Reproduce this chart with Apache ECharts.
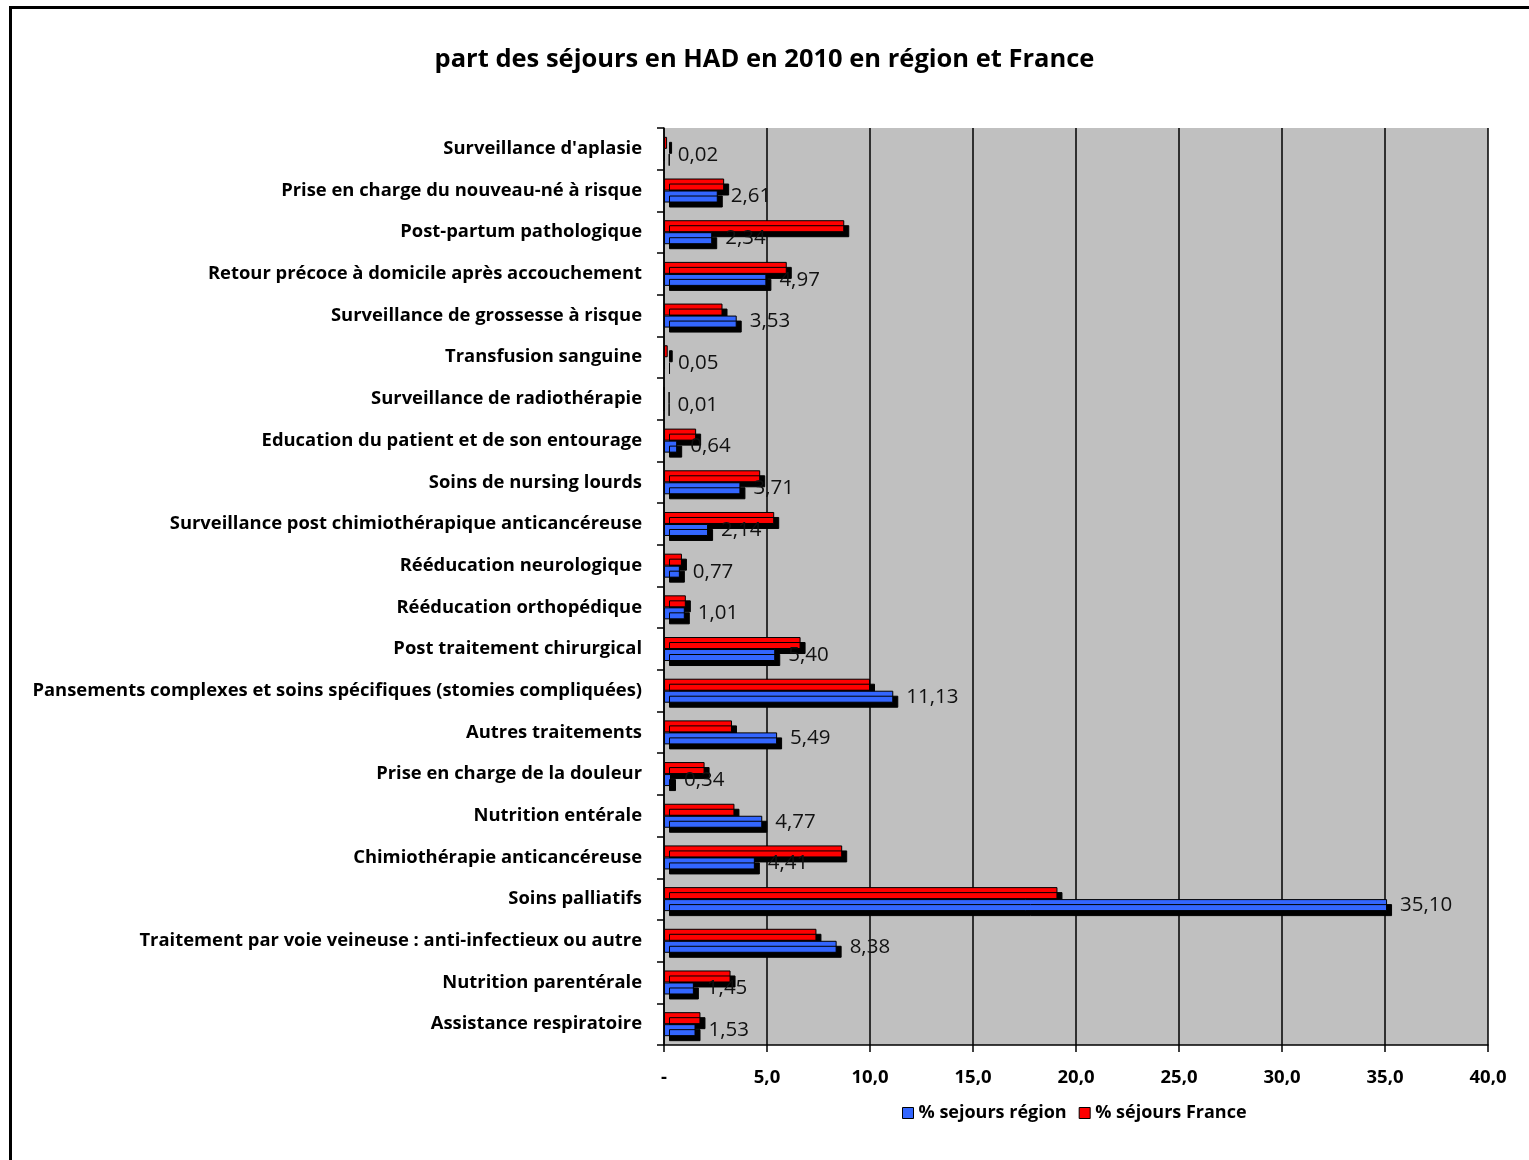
<!DOCTYPE html>
<html><head><meta charset="utf-8">
<script src="https://cdn.jsdelivr.net/npm/echarts@6/dist/echarts.min.js"></script>
<style>html,body{margin:0;padding:0;background:#fff}#c{width:1529px;height:1160px}</style>
</head><body><div id="c"></div>
<script>
const titleText = "part des séjours en HAD en 2010 en région et France";
const categories = [
  "Assistance respiratoire",
  "Nutrition parentérale",
  "Traitement par voie veineuse : anti-infectieux ou autre",
  "Soins palliatifs",
  "Chimiothérapie anticancéreuse",
  "Nutrition entérale",
  "Prise en charge de la douleur",
  "Autres traitements",
  "Pansements complexes et soins spécifiques (stomies compliquées)",
  "Post traitement chirurgical",
  "Rééducation orthopédique",
  "Rééducation neurologique",
  "Surveillance post chimiothérapique anticancéreuse",
  "Soins de nursing lourds",
  "Education du patient et de son entourage",
  "Surveillance de radiothérapie",
  "Transfusion sanguine",
  "Surveillance de grossesse à risque",
  "Retour précoce à domicile après accouchement",
  "Post-partum pathologique",
  "Prise en charge du nouveau-né à risque",
  "Surveillance d'aplasie"
];
const regionName = "% sejours région";
const franceName = "% séjours France";
const regionValues = [1.53, 1.45, 8.38, 35.10, 4.41, 4.77, 0.34, 5.49, 11.13, 5.40, 1.01, 0.77, 2.14, 3.71, 0.64, 0.01, 0.05, 3.53, 4.97, 2.34, 2.61, 0.02];
const franceValues = [1.77, 3.23, 7.40, 19.10, 8.65, 3.42, 1.97, 3.30, 10.00, 6.63, 1.06, 0.87, 5.35, 4.67, 1.56, 0.01, 0.18, 2.84, 5.96, 8.75, 2.92, 0.15];
const xMin = 0, xMax = 40, xStep = 5;

const FONT = "'Open Sans', sans-serif";
const chart = echarts.init(document.getElementById('c'), null, {renderer: 'canvas'});
const fmtComma = (v, d) => v.toFixed(d).replace('.', ',');
chart.setOption({
  animation: false,
  backgroundColor: '#fff',
  textStyle: {fontFamily: FONT},
  title: {
    text: titleText, left: 'center', top: 42,
    textStyle: {fontFamily: FONT, fontWeight: 'bold', fontSize: 25.5, color: '#000'}
  },
  graphic: [{
    type: 'rect', left: 8, top: 5, silent: true, z: 100,
    shape: {width: 1600, height: 1300},
    style: {fill: 'none', stroke: '#000', lineWidth: 3}
  }],
  legend: {
    bottom: 33, left: 897,
    itemWidth: 11, itemHeight: 11, itemGap: 12,
    icon: 'rect',
    textStyle: {fontFamily: FONT, fontWeight: 'bold', fontSize: 18, color: '#000'},
    itemStyle: {borderColor: '#000', borderWidth: 1, shadowBlur: 0, shadowOffsetX: 0, shadowOffsetY: 0},
    data: [regionName, franceName]
  },
  grid: {left: 664, right: 41, top: 128, bottom: 115, containLabel: false,
         show: true, backgroundColor: '#C0C0C0', borderWidth: 0},
  xAxis: {
    type: 'value', min: xMin, max: xMax, interval: xStep,
    axisLine: {show: true, lineStyle: {color: '#000', width: 1.5}},
    axisTick: {show: true, length: 7, lineStyle: {color: '#000', width: 1.5}},
    splitLine: {show: true, lineStyle: {color: '#000', width: 1.5}},
    axisLabel: {
      margin: 23, fontFamily: FONT, fontWeight: 'bold', fontSize: 18.5, color: '#000',
      formatter: v => v === 0 ? '-' : fmtComma(v, 1)
    }
  },
  yAxis: {
    type: 'category', data: categories, boundaryGap: true,
    axisLine: {show: true, lineStyle: {color: '#000', width: 1.5}},
    axisTick: {show: true, length: 7, lineStyle: {color: '#000', width: 1.5}},
    axisLabel: {margin: 22, fontFamily: FONT, fontWeight: 'bold', fontSize: 18.4, color: '#000'}
  },
  series: [
    {
      name: franceName, type: 'bar', data: franceValues,
      barWidth: 12, barGap: '0%',
      itemStyle: {color: '#FF0000', borderColor: '#000', borderWidth: 1,
                  shadowColor: '#000', shadowBlur: 0, shadowOffsetX: 5, shadowOffsetY: 5}
    },
    {
      name: regionName, type: 'bar', data: regionValues,
      barWidth: 12, barGap: '0%',
      itemStyle: {color: '#3366FF', borderColor: '#000', borderWidth: 1,
                  shadowColor: '#000', shadowBlur: 0, shadowOffsetX: 5, shadowOffsetY: 5},
      label: {show: true, position: 'right', distance: 13,
              fontFamily: FONT, fontSize: 20.5, color: '#111',
              formatter: p => fmtComma(p.value, 2)}
    }
  ]
});
</script></body></html>
